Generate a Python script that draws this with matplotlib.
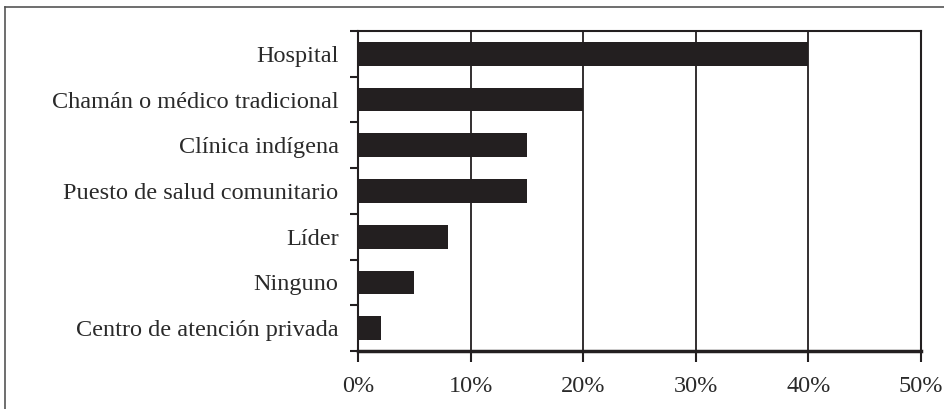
import matplotlib.pyplot as plt
from matplotlib.lines import Line2D
import numpy as np

categories = ['Hospital', 'Chamán o médico tradicional', 'Clínica indígena',
              'Puesto de salud comunitario', 'Líder', 'Ninguno',
              'Centro de atención privada']
values = [40, 20, 15, 15, 8, 5, 2]
xticks = [0, 10, 20, 30, 40, 50]

plt.rcParams['font.family'] = ['Liberation Serif', 'DejaVu Serif']
dark = '#231f20'

fig = plt.figure(figsize=(9.44, 4.09), dpi=100)
ax = fig.add_axes([358 / 944, 1 - 351 / 409, (921 - 358) / 944, (351 - 31) / 409])

pos = np.arange(len(categories))
ax.barh(pos, values, height=0.52, color=dark, zorder=3)
ax.set_ylim(len(categories) - 0.5, -0.5)
ax.set_xlim(0, 50)

ax.set_xticks(xticks)
ax.set_xticklabels([f'{v}%' for v in xticks], fontsize=17.5, color='#2a2a2a')
ax.set_yticks(pos)
ax.set_yticklabels(categories, fontsize=17.5, color='#2a2a2a')
ax.set_yticks(np.arange(-0.5, len(categories)), minor=True)
ax.tick_params(axis='y', which='major', length=0, pad=14)
ax.tick_params(axis='y', which='minor', length=6, width=1.5, color=dark)
ax.tick_params(axis='x', length=8, width=1.5, color=dark, pad=10)

ax.grid(axis='x', color=dark, linewidth=1.3, zorder=1)
for side in ['top', 'right', 'left']:
    ax.spines[side].set_color(dark)
    ax.spines[side].set_linewidth(1.5)
ax.spines['bottom'].set_color(dark)
ax.spines['bottom'].set_linewidth(2.5)

# outer frame (cut off on right and bottom)
fig.add_artist(Line2D([5 / 944, 5 / 944], [0, 1 - 7 / 409], color='#555', linewidth=1.2))
fig.add_artist(Line2D([5 / 944, 1], [1 - 7 / 409, 1 - 7 / 409], color='#555', linewidth=1.2))

fig.savefig('out.png', dpi=100)
